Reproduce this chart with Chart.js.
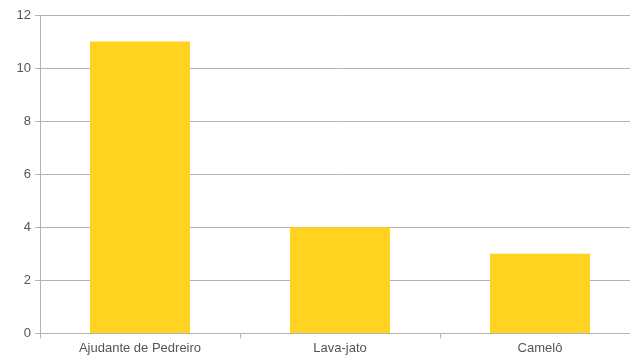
<!DOCTYPE html>
<html>
<head>
<meta charset="utf-8">
<script src="https://cdn.jsdelivr.net/npm/chart.js@4/dist/chart.umd.min.js"></script>
<style>
  html, body { margin: 0; padding: 0; background: #fff; overflow: hidden; }
  #wrap { width: 640px; height: 358px; }
</style>
</head>
<body>
<div id="wrap"><canvas id="barChart" width="640" height="358"></canvas></div>
<script>
// values
var categories = ["Ajudante de Pedreiro", "Lava-jato", "Camelô"]
var values = [11, 4, 3]
var yTicks = [0, 2, 4, 6, 8, 10, 12]

var gridColor = '#b3b3b3'

var ctx = document.getElementById("barChart").getContext('2d')
var barChart = new Chart(ctx, {
    type: 'bar',
    data: {
        labels: categories,
        datasets: [
            {
                data: values,
                backgroundColor: '#ffd320',
                borderWidth: 0,
                barPercentage: 0.5,
                categoryPercentage: 1.0
            }
        ]
    },
    options: {
        responsive: false,
        animation: false,
        layout: { padding: { top: 15, right: 0, bottom: 0, left: 0 } },
        plugins: {
            legend: { display: false },
            tooltip: { enabled: false }
        },
        scales: {
            x: {
                grid: {
                    offset: true,
                    drawOnChartArea: false,
                    color: gridColor,
                    tickLength: 5
                },
                border: { color: gridColor },
                ticks: {
                    color: '#555',
                    font: { family: 'Liberation Sans', size: 13 },
                    padding: 2,
                    maxRotation: 0
                }
            },
            y: {
                min: 0,
                max: 12,
                afterBuildTicks: function(axis) {
                    axis.ticks = yTicks.map(function(v) { return { value: v } })
                },
                afterFit: function(axis) { axis.width = 40 },
                grid: {
                    color: gridColor,
                    tickLength: 5
                },
                border: { color: gridColor },
                ticks: {
                    color: '#555',
                    font: { family: 'Liberation Sans', size: 13 },
                    padding: 4
                }
            }
        }
    }
})
</script>
</body>
</html>
